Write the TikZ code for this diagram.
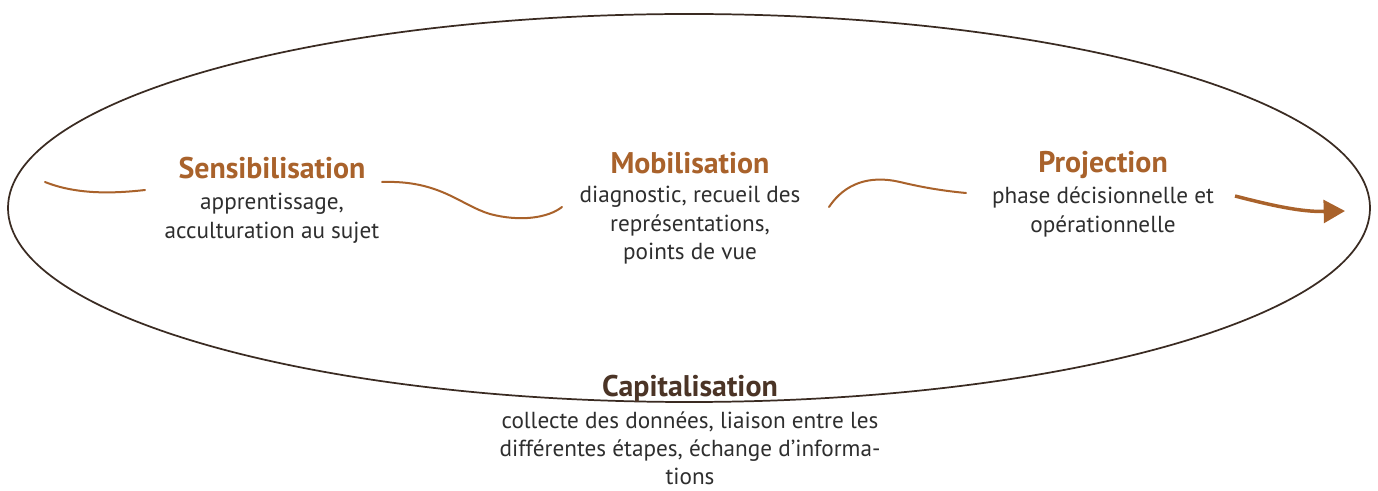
\documentclass[tikz,border=0pt]{standalone}
\usepackage{fontspec}
\setmainfont{PT Sans}
\usetikzlibrary{arrows.meta,shapes.geometric}
\definecolor{ochre}{HTML}{A9622B}
\definecolor{darkbrown}{HTML}{4B3426}
\definecolor{ringcol}{HTML}{3A2B22}
\definecolor{bodytext}{HTML}{2E2E2E}
\tikzset{
  title/.style={font=\bfseries\fontsize{22.4}{26}\selectfont, text=ochre, inner sep=0pt, anchor=center},
  body/.style={font=\fontsize{17.4}{21.4}\selectfont, text=bodytext, align=center, inner sep=0pt, anchor=north},
  wave/.style={draw=ochre, line width=1.5pt, line cap=round},
  ring/.style={draw=ringcol, line width=1.3pt, ellipse, inner sep=0pt, minimum width=1021.5pt, minimum height=291pt}
}
\begin{document}
\begin{tikzpicture}[x=0.75pt,y=-0.75pt]
\useasboundingbox (0,0) rectangle (1378,491);
\fill[white] (0,0) rectangle (1378,491);
\node[ring] (cycle) at (689,208) {};

\node[title] (sens) at (272,168) {Sensibilisation};
\node[body] (sensb) at (272,193) {apprentissage,\\acculturation au sujet};

\node[title] (mobi) at (690,163) {Mobilisation};
\node[body] (mobib) at (690,186) {diagnostic, recueil des\\représentations,\\points de vue};

\node[title] (proj) at (1103,165) {Projection};
\node[body] (projb) at (1103,187) {phase décisionnelle et\\opérationnelle};

\node[title, text=darkbrown] (capi) at (690,389) {Capitalisation};
\node[body, font=\fontsize{17.4}{21}\selectfont] (capib) at (690,412) {collecte des données, liaison entre les\\différentes étapes, échange d’informa-\\tions};

\coordinate (w1a) at (45,182);
\coordinate (w1b) at (145,190);
\coordinate (w2a) at (382,182);
\coordinate (w2b) at (562,207);
\coordinate (w3a) at (829,207);
\coordinate (w3b) at (966,193);
\coordinate (w4a) at (1235,196);
\coordinate (w4b) at (1345,211);

\draw[wave] (w1a) .. controls (75,194) and (110,194) .. (w1b);
\draw[wave] (w2a) .. controls (440,180) and (460,205) .. (490,214) .. controls (520,222) and (548,218) .. (w2b);
\draw[wave] (w3a) .. controls (845,183) and (870,175) .. (900,182) .. controls (925,188) and (945,191) .. (w3b);
\draw[draw=ochre, line width=2.6pt, -{Triangle[length=16pt,width=17pt]}] (w4a) .. controls (1270,205) and (1300,212) .. (w4b);
\end{tikzpicture}
\end{document}
